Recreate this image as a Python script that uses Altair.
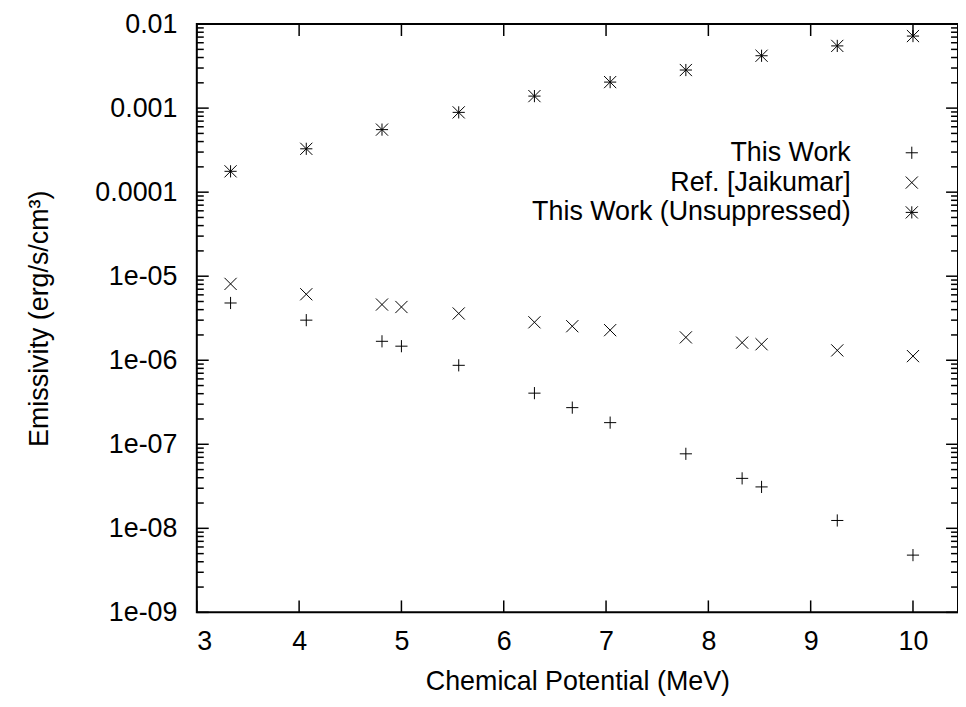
import altair as alt
import pandas as pd

# ---- data ----
series_names = ["This Work", "Ref. [Jaikumar]", "This Work (Unsuppressed)"]

mu_work = [3.33, 4.07, 4.81, 5.00, 5.56, 6.30, 6.67, 7.04, 7.78, 8.33, 8.52, 9.26, 10.00]
em_work = [4.8e-6, 3.0e-6, 1.68e-6, 1.47e-6, 8.7e-7, 4.06e-7, 2.73e-7, 1.81e-7,
           7.7e-8, 3.93e-8, 3.11e-8, 1.24e-8, 4.8e-9]

mu_ref = [3.33, 4.07, 4.81, 5.00, 5.56, 6.30, 6.67, 7.04, 7.78, 8.33, 8.52, 9.26, 10.00]
em_ref = [8.1e-6, 6.1e-6, 4.6e-6, 4.3e-6, 3.6e-6, 2.83e-6, 2.54e-6, 2.28e-6,
          1.87e-6, 1.62e-6, 1.55e-6, 1.31e-6, 1.12e-6]

mu_unsup = [3.33, 4.07, 4.81, 5.56, 6.30, 7.04, 7.78, 8.52, 9.26, 10.00]
em_unsup = [1.77e-4, 3.28e-4, 5.55e-4, 8.9e-4, 1.39e-3, 2.04e-3, 2.84e-3, 4.2e-3,
            5.5e-3, 7.2e-3]

x_ticks = [3, 4, 5, 6, 7, 8, 9, 10]
y_ticks = [1e-9, 1e-8, 1e-7, 1e-6, 1e-5, 1e-4, 1e-3, 1e-2]
y_tick_labels = ["1e-09", "1e-08", "1e-07", "1e-06", "1e-05", "0.0001", "0.001", "0.01"]
y_minor = [k * v for v in y_ticks[:-1] for k in range(2, 10)]

x_domain = [3, 10.44]
y_domain = [1e-9, 1e-2]

# ---- build tables ----
rows = []
for name, xs, ys in zip(series_names, [mu_work, mu_ref, mu_unsup], [em_work, em_ref, em_unsup]):
    for a, b in zip(xs, ys):
        rows.append({"series": name, "mu": a, "em": b})
df = pd.DataFrame(rows)

W, H = 766, 592
FONT = "Liberation Sans"
FS = 27

PLUS = "M-1,0L1,0M0,-1L0,1"
CROSS = "M-1,-1L1,1M-1,1L1,-1"
STAR = PLUS + CROSS

xscale = alt.Scale(domain=x_domain, nice=False, zero=False)
yscale = alt.Scale(type="log", domain=y_domain, nice=False)

conds = ""
for v, lab in zip(y_ticks[:-1], y_tick_labels[:-1]):
    conds += f"datum.value < {v * 3} ? '{lab}' : "
label_expr = conds + f"'{y_tick_labels[-1]}'"

x_axis = alt.Axis(
    values=x_ticks, ticks=False, domain=False, grid=False,
    labelFontSize=FS, labelFont=FONT, labelColor="black", labelPadding=16,
    title="Chemical Potential (MeV)", titleFont=FONT, titleFontSize=FS,
    titleFontWeight="normal", titleColor="black", titleY=70, titleBaseline="middle")
y_axis = alt.Axis(
    values=y_ticks, labelExpr=label_expr, ticks=False, domain=False, grid=False,
    labelFontSize=FS, labelFont=FONT, labelColor="black", labelPadding=20,
    title="Emissivity (erg/s/cm³)", titleFont=FONT, titleFontSize=FS,
    titleFontWeight="normal", titleColor="black", titleX=-158, titleY=H / 2,
    titleAngle=270, titleBaseline="middle", titleAlign="center")

points = alt.Chart(df).mark_point(
    filled=False, color="black", strokeWidth=1, size=150, opacity=1
).encode(
    x=alt.X("mu:Q", scale=xscale, axis=x_axis),
    y=alt.Y("em:Q", scale=yscale, axis=y_axis),
    shape=alt.Shape("series:N", scale=alt.Scale(domain=series_names, range=[PLUS, CROSS, STAR]),
                    legend=alt.Legend(title=None, orient="none", legendX=706, legendY=116,
                                      labelAlign="right", labelOffset={"expr": "-75"}, labelFont=FONT,
                                      labelFontSize=FS, labelColor="black", labelLimit=600,
                                      symbolStrokeColor="black", symbolStrokeWidth=1,
                                      symbolSize=150, rowPadding=2, padding=0)),
)

xt = pd.DataFrame({"v": x_ticks})
yt = pd.DataFrame({"v": y_ticks})
ym = pd.DataFrame({"v": y_minor})

def xrule(y1, y2):
    return alt.Chart(xt).mark_rule(color="black", strokeWidth=1.5).encode(
        x=alt.X("v:Q", scale=xscale, axis=x_axis), y=alt.value(y1), y2=alt.value(y2))

def yrule(data, x1, x2):
    return alt.Chart(data).mark_rule(color="black", strokeWidth=1.5).encode(
        y=alt.Y("v:Q", scale=yscale, axis=y_axis), x=alt.value(x1), x2=alt.value(x2))

MAJ, MIN = 12, 7
layers = [
    points,
    xrule(H, H - MAJ), xrule(0, MAJ),
    yrule(yt, 0, MAJ), yrule(yt, W, W - MAJ),
    yrule(ym, 0, MIN), yrule(ym, W, W - MIN),
]

chart = alt.layer(*layers).properties(
    width=W, height=H,
    autosize=alt.AutoSizeParams(type="none"),
    padding={"left": 190, "top": 14, "right": 0, "bottom": 85},
    background="white",
).configure_view(stroke="black", strokeWidth=2)

chart.save("out.html", embed_options={"renderer": "svg", "actions": False})
